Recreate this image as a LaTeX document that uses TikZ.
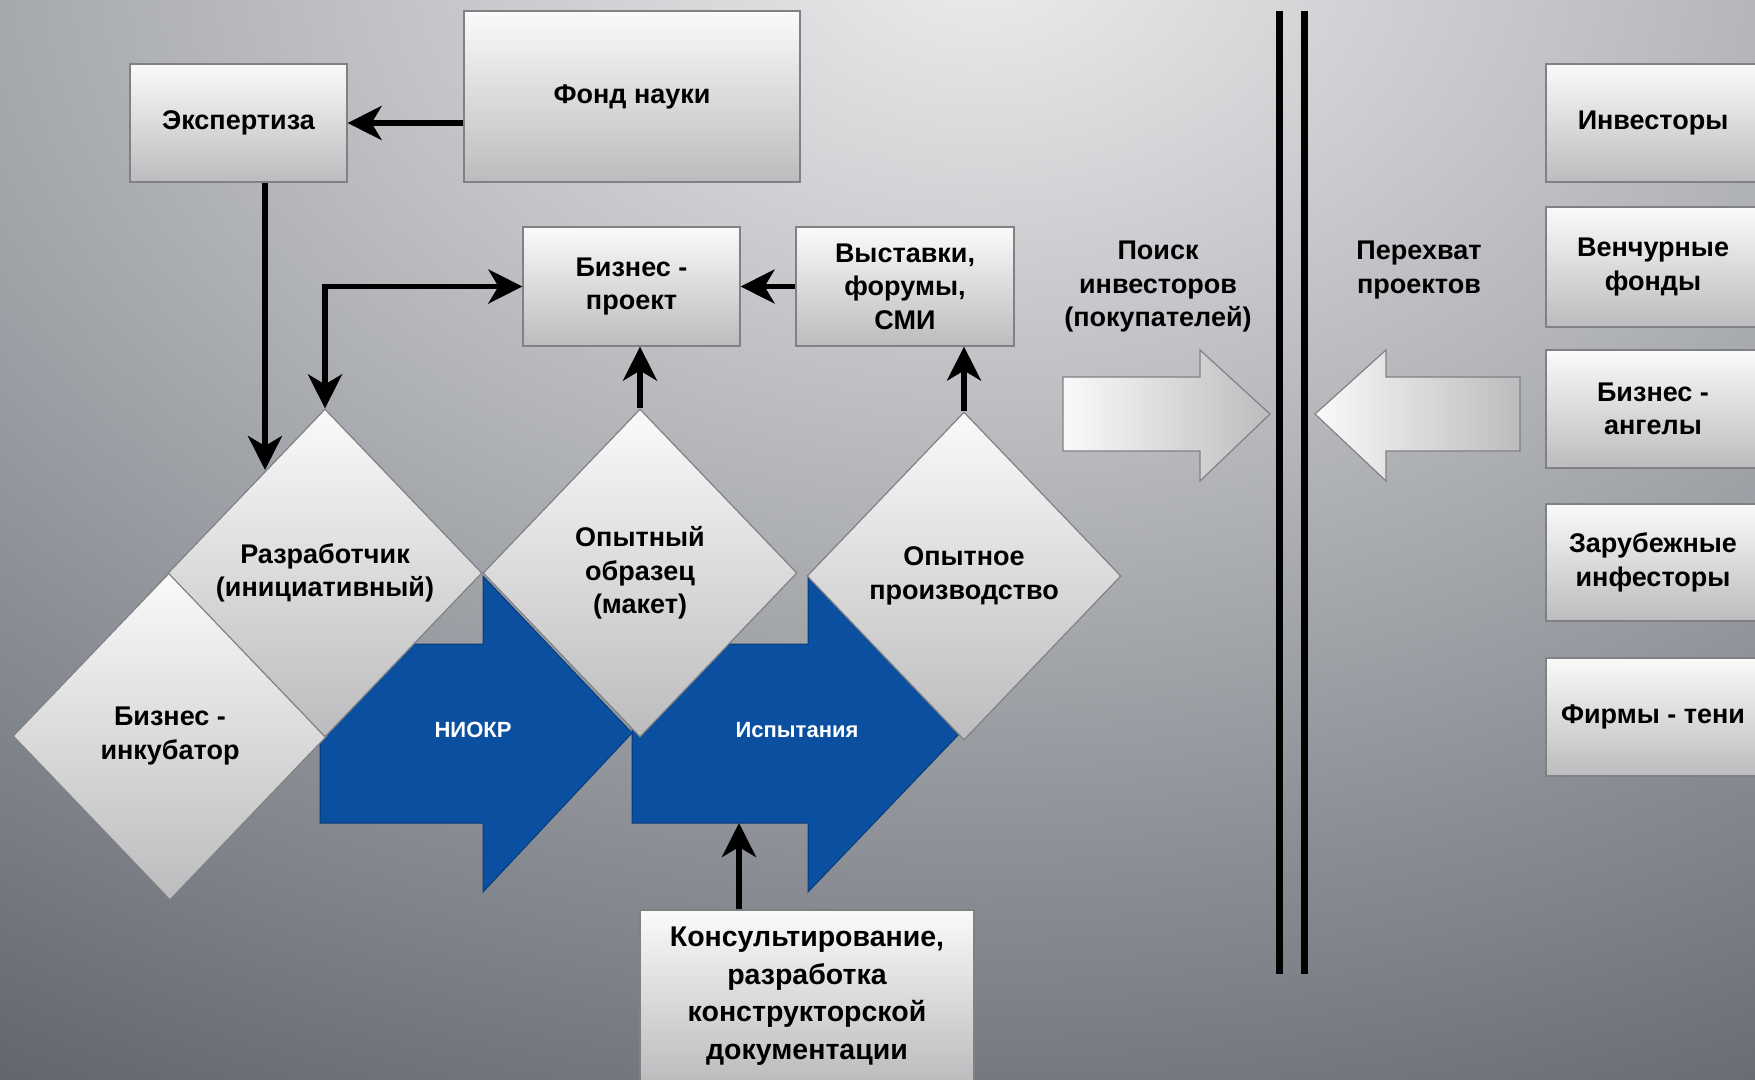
\documentclass[tikz,border=0pt]{standalone}
\usepackage{fontspec}
\setmainfont{Liberation Sans}
\usetikzlibrary{arrows.meta,shapes.geometric}
\definecolor{bluearr}{RGB}{10,79,160}
\definecolor{bgin}{RGB}{236,236,237}
\definecolor{bgout}{RGB}{92,97,106}
\definecolor{boxtop}{RGB}{250,250,250}
\definecolor{boxbot}{RGB}{188,188,190}
\definecolor{edgegray}{RGB}{128,129,132}
\begin{document}
\begin{tikzpicture}[x=1pt,y=-1pt,
  txt/.style={font=\fontsize{27}{33.5}\selectfont\bfseries, align=center, text=black},
  box/.style={txt, draw=edgegray, line width=1.2pt, top color=boxtop, bottom color=boxbot, inner sep=0pt},
  dia/.style={txt, shape=diamond, draw=edgegray, line width=1.2pt, top color=boxtop, bottom color=boxbot,
    minimum width=314pt, minimum height=328pt, inner sep=0pt},
  arr/.style={line width=5.5pt, -{Stealth[length=34pt,width=34pt,inset=10pt]}},
  arrboth/.style={line width=5.5pt, {Stealth[length=34pt,width=34pt,inset=10pt]}-{Stealth[length=34pt,width=34pt,inset=10pt]}},
  bluefill/.style={fill=bluearr, draw=bluearr!75!black, line width=1pt},
  hollow/.style={draw=edgegray, line width=1.2pt, left color=boxtop, right color=boxbot},
  wtxt/.style={font=\fontsize{22}{26}\selectfont\bfseries, text=white},
  divider/.style={line width=7pt, draw=black}]
\useasboundingbox (0,0) rectangle (1755,1079);
\begin{scope}
\clip (0,0) rectangle (1755,1079);
% background
\shade[inner color=bgin, outer color=bgout] (980,-40) ellipse (2000 and 1350);

% blue arrows
\path[bluefill] (320,644) -- (483,644) -- (483,576) -- (632,733) -- (483,892) -- (483,823) -- (320,823) -- cycle;
\path[bluefill] (632,644) -- (808,644) -- (808,576) -- (960,733) -- (808,892) -- (808,823) -- (632,823) -- cycle;
\node[wtxt] (niokr) at (473,730) {НИОКР};
\node[wtxt] (isp) at (797,730) {Испытания};

% diamonds
\node[dia] (inc) at (170,736) {Бизнес -\\инкубатор};
\node[dia] (razr) at (325,573) {Разработчик\\(инициативный)};
\node[dia] (opyt) at (640,573) {Опытный\\образец\\(макет)};
\node[dia] (proizv) at (964,576) {Опытное\\производство};

% boxes
\node[box, minimum width=217pt, minimum height=118pt] (exp) at (238.5,123) {Экспертиза};
\node[box, minimum width=336pt, minimum height=171pt] (fond) at (632,96.5) {Фонд науки};
\node[box, minimum width=217pt, minimum height=119pt] (bp) at (631.5,286.5) {Бизнес -\\проект};
\node[box, minimum width=218pt, minimum height=119pt] (vy) at (905,286.5) {Выставки,\\форумы,\\СМИ};
\node[box, minimum width=334pt, minimum height=172pt, font=\fontsize{28.5}{37.5}\selectfont\bfseries] (cons) at (807,996) {Консультирование,\\разработка\\конструкторской\\документации};

\node[box, minimum width=214pt, minimum height=118pt] (inv) at (1653,123) {Инвесторы};
\node[box, minimum width=214pt, minimum height=120pt] (ven) at (1653,267) {Венчурные\\фонды};
\node[box, minimum width=214pt, minimum height=118pt] (ang) at (1653,409) {Бизнес -\\ангелы};
\node[box, minimum width=214pt, minimum height=117pt] (zar) at (1653,562.5) {Зарубежные\\инфесторы};
\node[box, minimum width=214pt, minimum height=118pt] (firm) at (1653,717) {Фирмы - тени};

% hollow arrows
\path[hollow] (1063,377) -- (1200,377) -- (1200,350) -- (1270,414) -- (1200,481) -- (1200,451) -- (1063,451) -- cycle;
\path[hollow] (1520,377) -- (1386,377) -- (1386,350) -- (1315,414) -- (1386,481) -- (1386,451) -- (1520,451) -- cycle;

\node[txt] (poisk) at (1158,287) {Поиск\\инвесторов\\(покупателей)};
\node[txt] (perehv) at (1419,270) {Перехват\\проектов};

% dividers
\coordinate (d1t) at (1279,11);
\coordinate (d1b) at (1279,974);
\coordinate (d2t) at (1304,11);
\coordinate (d2b) at (1304,974);
\draw[divider] (d1t) -- (d1b);
\draw[divider] (d2t) -- (d2b);

% connectors
\coordinate (razrIn) at (265,470);
\coordinate (ispB) at (739,823);
\draw[arr] (fond.west |- exp.east) -- (exp.east);
\draw[arr] (exp.south -| razrIn) -- (razrIn);
\draw[arr] (vy.west) -- (bp.east);
\draw[arrboth] (bp.west) -| (razr.north);
\draw[arr] (opyt.north) -- (opyt.north |- bp.south);
\draw[arr] (proizv.north) -- (proizv.north |- vy.south);
\draw[arr] (cons.north -| ispB) -- (ispB);
\end{scope}
\end{tikzpicture}
\end{document}
